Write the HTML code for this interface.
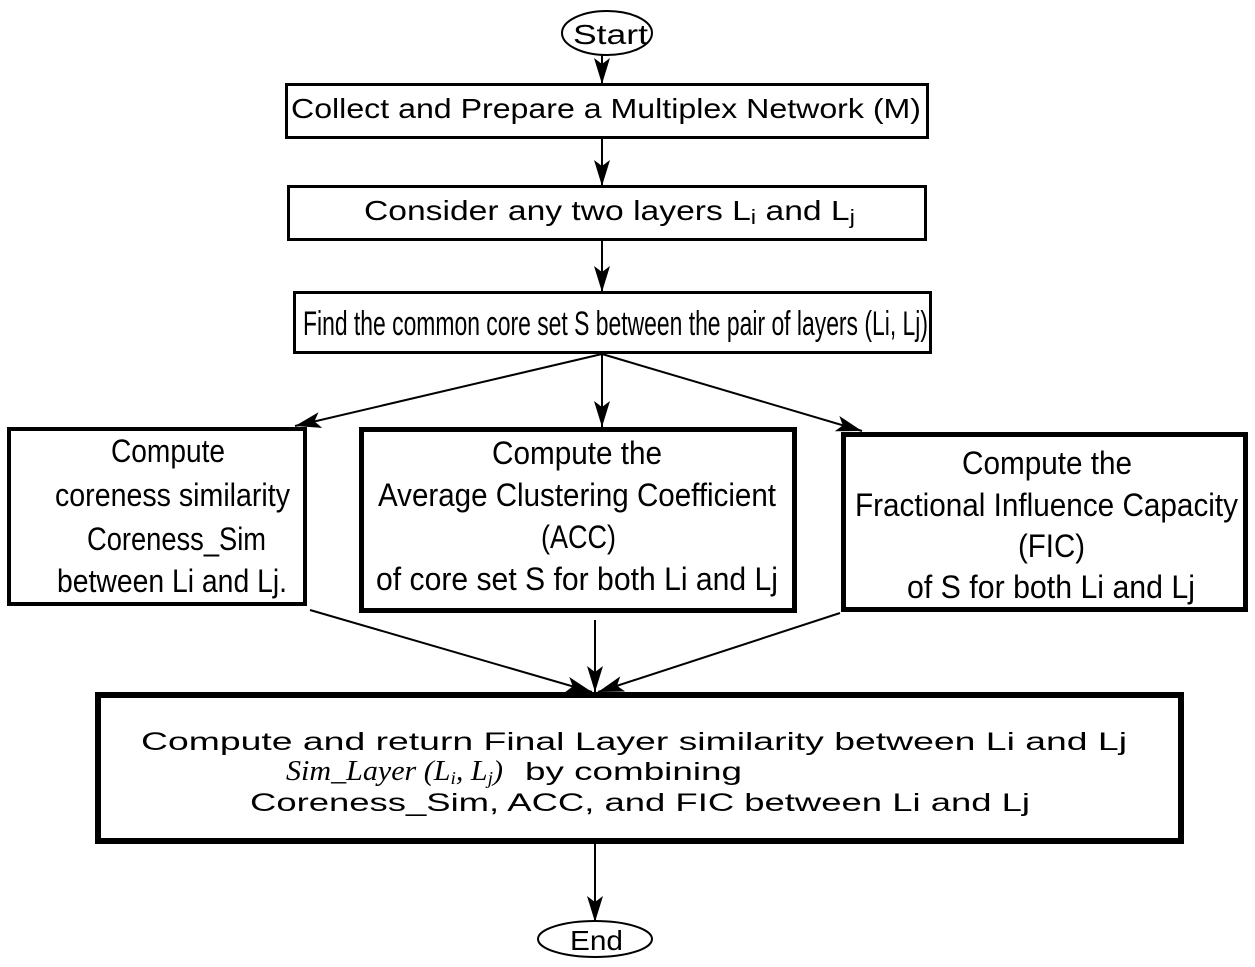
<!DOCTYPE html>
<html><head><style>body{margin:0;background:#fff}svg{display:block}</style></head><body>
<svg width="1255" height="967" viewBox="0 0 1255 967" xmlns="http://www.w3.org/2000/svg">
<defs>
<marker id="a" markerUnits="userSpaceOnUse" markerWidth="30" markerHeight="20" refX="26" refY="8" orient="auto"><path d="M0,0 L26,8 L0,16 L6,8 Z" fill="#000"/></marker>
</defs>
<g fill="#fff" stroke="#000">
<ellipse cx="607" cy="33" rx="45" ry="22" stroke-width="2"/>
<rect x="286.5" y="84.5" width="641" height="53" stroke-width="3"/>
<rect x="288.5" y="186.5" width="637" height="53" stroke-width="3"/>
<rect x="294.5" y="292.5" width="636" height="60" stroke-width="3"/>
<rect x="9" y="429" width="296" height="175" stroke-width="4"/>
<rect x="361.5" y="429.5" width="433" height="181" stroke-width="5"/>
<rect x="843.5" y="434.5" width="402" height="175" stroke-width="5"/>
<rect x="98" y="695" width="1083" height="146" stroke-width="6"/>
<ellipse cx="595" cy="939" rx="57" ry="18" stroke-width="2"/>
</g>
<g stroke="#000" stroke-width="2" fill="none" marker-end="url(#a)">
<line x1="602" y1="55" x2="602" y2="84"/>
<line x1="602" y1="138" x2="602" y2="186"/>
<line x1="602" y1="240" x2="602" y2="292"/>
<line x1="602" y1="354" x2="295" y2="426"/>
<line x1="602" y1="354" x2="602" y2="427"/>
<line x1="602" y1="354" x2="862" y2="431"/>
<line x1="310" y1="610" x2="592" y2="692"/>
<line x1="595" y1="620" x2="595" y2="692"/>
<line x1="840" y1="613" x2="598" y2="692"/>
<line x1="595" y1="843" x2="595" y2="922"/>
</g>
<g font-family="Liberation Sans, sans-serif" fill="#000">
<text x="573" y="44" font-size="28" textLength="75" lengthAdjust="spacingAndGlyphs">Start</text>
<text x="291" y="118" font-size="28" textLength="630" lengthAdjust="spacingAndGlyphs">Collect and Prepare a Multiplex Network (M)</text>
<text x="364" y="220" font-size="28" textLength="491" lengthAdjust="spacingAndGlyphs">Consider any two layers L<tspan font-size="20" dy="4">i</tspan><tspan dy="-4"> and L</tspan><tspan font-size="20" dy="4">j</tspan></text>
<text x="303" y="335" font-size="34" textLength="625" lengthAdjust="spacingAndGlyphs">Find the common core set S between the pair of layers (Li, Lj)</text>
<g font-size="32">
<text x="111" y="462" textLength="114" lengthAdjust="spacingAndGlyphs">Compute</text>
<text x="55" y="506" textLength="235" lengthAdjust="spacingAndGlyphs">coreness similarity</text>
<text x="87" y="550" textLength="179" lengthAdjust="spacingAndGlyphs">Coreness_Sim</text>
<text x="57" y="592" textLength="230" lengthAdjust="spacingAndGlyphs">between Li and Lj.</text>
<text x="492" y="464" textLength="170" lengthAdjust="spacingAndGlyphs">Compute the</text>
<text x="378" y="506" textLength="398" lengthAdjust="spacingAndGlyphs">Average Clustering Coefficient</text>
<text x="541" y="548" textLength="75" lengthAdjust="spacingAndGlyphs">(ACC)</text>
<text x="376" y="590" textLength="402" lengthAdjust="spacingAndGlyphs">of core set S for both Li and Lj</text>
<text x="962" y="474" textLength="170" lengthAdjust="spacingAndGlyphs">Compute the</text>
<text x="855" y="516" textLength="383" lengthAdjust="spacingAndGlyphs">Fractional Influence Capacity</text>
<text x="1018" y="557" textLength="67" lengthAdjust="spacingAndGlyphs">(FIC)</text>
<text x="907" y="598" textLength="288" lengthAdjust="spacingAndGlyphs">of S for both Li and Lj</text>
</g>
<text x="141" y="750" font-size="25" textLength="986" lengthAdjust="spacingAndGlyphs">Compute and return Final Layer similarity between Li and Lj</text>
<text x="286" y="780" font-size="28" font-family="Liberation Serif, serif" font-style="italic" textLength="217" lengthAdjust="spacingAndGlyphs">Sim_Layer (L<tspan font-size="18" dy="4">i</tspan><tspan dy="-4">, L</tspan><tspan font-size="18" dy="4">j</tspan><tspan dy="-4">)</tspan></text>
<text x="525" y="780" font-size="25" textLength="217" lengthAdjust="spacingAndGlyphs">by combining</text>
<text x="250" y="811" font-size="25" textLength="780" lengthAdjust="spacingAndGlyphs">Coreness_Sim, ACC, and FIC between Li and Lj</text>
<text x="570" y="950" font-size="28" textLength="53" lengthAdjust="spacingAndGlyphs">End</text>
</g>
</svg>
</body></html>
